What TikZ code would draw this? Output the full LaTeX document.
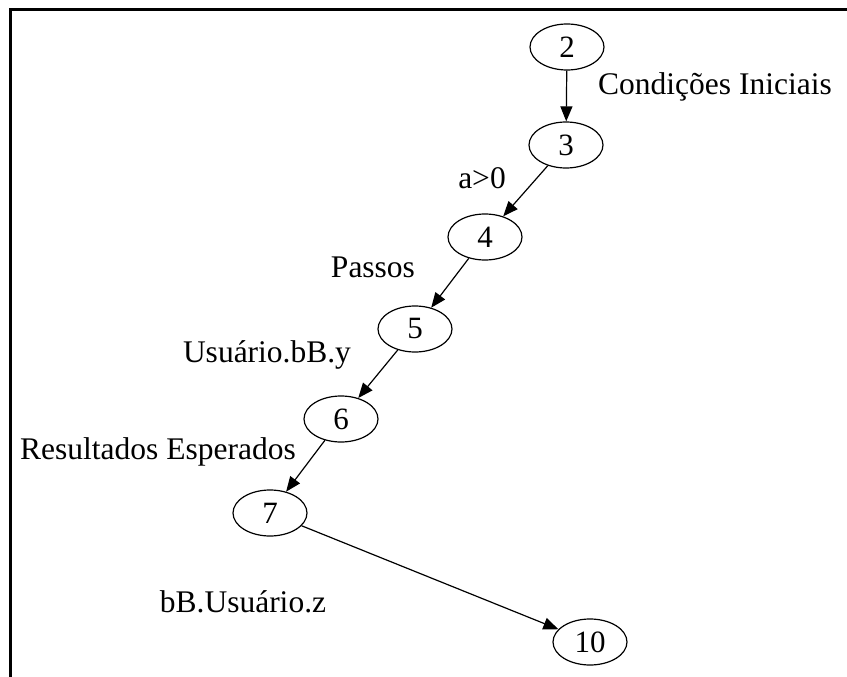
\documentclass[tikz,border=0pt]{standalone}
\usepackage{fontspec}
\setmainfont{Liberation Serif}
\usetikzlibrary{arrows.meta,shapes.geometric}

\begin{document}
\begin{tikzpicture}[x=1pt,y=-1pt,>={Triangle[length=15pt,width=12pt]}]
	\tikzstyle{state} = [ellipse,draw=black,line width=1.2pt,minimum width=74pt,minimum height=46pt,inner sep=0pt,font=\fontsize{31}{34}\selectfont];
	\tikzstyle{lbl} = [inner sep=0pt,font=\fontsize{31.5}{36}\selectfont];
	\useasboundingbox (0,0) rectangle (847,677);
	% frame
	\draw[line width=3pt] (10,677) -- (10,10) -- (847,10);
	% nodes
	\node[state] (n2) at (567, 47) {2};
	\node[state] (n3) at (566, 145) {3};
	\node[state] (n4) at (485, 237) {4};
	\node[state] (n5) at (415, 329) {5};
	\node[state] (n6) at (341, 419) {6};
	\node[state] (n7) at (270, 513) {7};
	\node[state] (n10) at (590, 642) {10};
	% labels
	\node[lbl,anchor=west] (lcond) at (598, 87) {Condições Iniciais};
	\node[lbl] (la) at (482, 178) {a>0};
	\node[lbl] (lpassos) at (373, 267) {Passos};
	\node[lbl] (lusr) at (267, 355) {Usuário.bB.y};
	\node[lbl] (lres) at (158, 452) {Resultados Esperados};
	\node[lbl] (lbb) at (243, 602) {bB.Usuário.z};
	% edges
	\draw[->,line width=1.2pt] (n2) edge (n3);
	\draw[->,line width=1.2pt] (n3) edge (n4);
	\draw[->,line width=1.2pt] (n4) edge (n5);
	\draw[->,line width=1.2pt] (n5) edge (n6);
	\draw[->,line width=1.2pt] (n6) edge (n7);
	\draw[->,line width=1.2pt] (n7) edge (n10);
\end{tikzpicture}
\end{document}
